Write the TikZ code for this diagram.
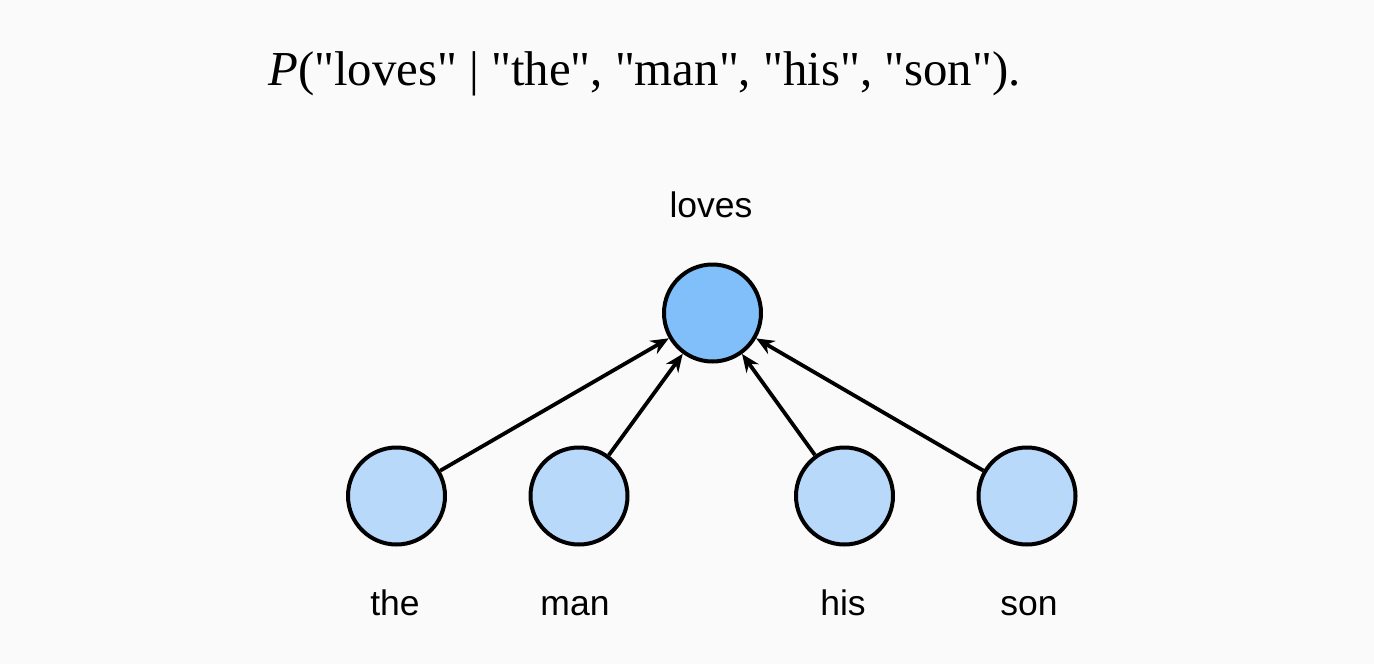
\documentclass[tikz,border=0pt]{standalone}
\usepackage{fontspec}
\setmainfont{Liberation Serif}[Ligatures=TeXOff]
\newfontfamily\labelfont{Liberation Sans}
\usetikzlibrary{arrows.meta,positioning}
\definecolor{pagegray}{HTML}{FAFAFA}
\definecolor{topblue}{HTML}{80BFFA}
\definecolor{wordblue}{HTML}{B8D9FA}

\begin{document}
\begin{tikzpicture}[x=1pt, y=-1pt,
    word/.style={
        circle,
        draw=black,
        line width=4pt,
        minimum size=97pt,
        inner sep=0pt,
        fill=wordblue
    },
    caption/.style={
        font=\labelfont\fontsize{35.5}{42}\selectfont,
        anchor=base,
        inner sep=0pt
    },
    link/.style={-{Stealth[length=18pt, width=15pt]}, line width=3.8pt}
]
    \useasboundingbox (0,0) rectangle (1374,664);
    \fill[pagegray] (0,0) rectangle (1374,664);
    \node (formula) [anchor=base west, inner sep=0pt, font=\fontsize{48.8}{58}\selectfont] at (268,85)
    {
        \textit{P}("loves" | "the", "man", "his", "son").
    };
    \node (loves) [word, fill=topblue] at (712.5,313) {};
    \node (the) [word] at (396.5,496) {};
    \node (man) [word] at (579,496) {};
    \node (his) [word] at (844.5,496) {};
    \node (son) [word] at (1027,496) {};
    \node (loves_label) [caption] at (711,217) {loves};
    \node (the_label) [caption] at (395,615) {the};
    \node (man_label) [caption] at (575,615) {man};
    \node (his_label) [caption] at (843,615) {his};
    \node (son_label) [caption] at (1029,615) {son};
    \draw[link] (the) -- (loves);
    \draw[link] (man) -- (loves);
    \draw[link] (his) -- (loves);
    \draw[link] (son) -- (loves);
\end{tikzpicture}
\end{document}
